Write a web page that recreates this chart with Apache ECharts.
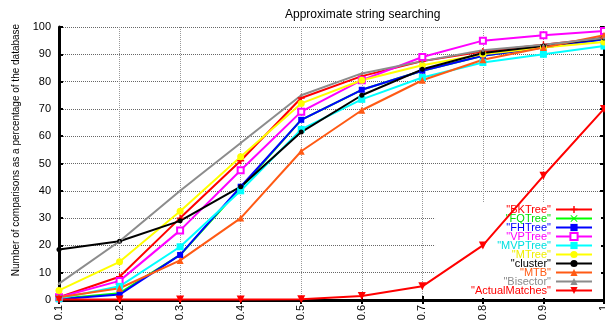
<!DOCTYPE html>
<html><head><meta charset="utf-8">
<script src="https://cdn.jsdelivr.net/npm/echarts@6/dist/echarts.min.js"></script>
<style>html,body{margin:0;padding:0;background:#fff}#c{width:605px;height:324px}</style>
</head><body><div id="c"></div><script>
const categories = ['0.1','0.2','0.3','0.4','0.5','0.6','0.7','0.8','0.9','1'];
const seriesNames = ['BKTree','FQTree','FHTree','VPTree','MVPTree','MTree','cluster','MTB','Bisector','ActualMatches'];
const bkTree = [1, 8.5, 30, 51, 74, 82, 87.5, 91, 93.5, 96];
const fqTree = [0.5, 2.5, 16.5, 41, 66, 77, 84, 89.5, 92.5, 95.5];
const fhTree = [0.3, 2, 16.5, 41.5, 66, 77, 84, 89.5, 92.5, 95.5];
const vpTree = [1, 7, 25.5, 47.5, 69, 80.5, 89, 95, 97, 98.5];
const mvpTree = [0.5, 5, 19.5, 40, 62.5, 73.5, 81.5, 87, 90, 93];
const mTree = [3.5, 14, 32.5, 52.5, 72, 80.5, 86, 90, 92.5, 94.5];
const cluster = [18.5, 21.5, 29, 41.5, 61.5, 75, 84.5, 90.5, 93, 96];
const mtb = [1, 4.3, 14.5, 30, 54.5, 69.5, 80.5, 88, 92.5, 97];
const bisector = [6, 21.5, 40, 57.5, 75, 83, 87.5, 91.5, 93.5, 96];
const actualMatches = [0.2, 0.2, 0.2, 0.2, 0.3, 1.5, 5, 20, 45.5, 70];

const FONT = 'Liberation Sans';
const plusPath = 'path://M4,0H6V4H10V6H6V10H4V6H0V4H4Z';
const crossPath = 'path://M1,0L5,4L9,0L10,1L6,5L10,9L9,10L5,6L1,10L0,9L4,5L0,1Z';

const styles = [
  {data: bkTree, color:'#ff0000', text:'#ff0000', symbol: plusPath, size: 7},
  {data: fqTree, color:'#00ff00', text:'#00e000', symbol: crossPath, size: 6},
  {data: fhTree, color:'#0000ff', text:'#0000ff', symbol:'rect', size: 6},
  {data: vpTree, color:'#ff00ff', text:'#ff00ff', symbol:'rect', size: 6, hollow:true},
  {data: mvpTree, color:'#00ffff', text:'#00e0e0', symbol:'rect', size: 7},
  {data: mTree, color:'#ffff00', text:'#f0f000', symbol:'circle', size: 7},
  {data: cluster, color:'#000000', text:'#000000', symbol:'circle', size: 5},
  {data: mtb, color:'#ff5a14', text:'#ff5a14', symbol:'triangle', size: 7},
  {data: bisector, color:'#8c8c8c', text:'#8c8c8c', symbol:'triangle', size: 3},
  {data: actualMatches, color:'#ff0000', text:'#ff0000', symbol:'path://M0,0H10L5,9Z', size: 8}
];

const series = seriesNames.map((n, i) => {
  const s = styles[i];
  return {
    type: 'line', name: n, data: s.data, symbol: s.symbol, symbolSize: s.size,
    showAllSymbol: true, animation: false, silent: true,
    lineStyle: {color: s.color, width: 2},
    itemStyle: s.hollow ? {color: '#ffffff', borderColor: s.color, borderWidth: 2} : {color: s.color},
    emphasis: {disabled: true}
  };
});

const chart = echarts.init(document.getElementById('c'), null, {renderer: 'canvas'});
chart.setOption({
  animation: false,
  backgroundColor: '#ffffff',
  textStyle: {fontFamily: FONT},
  title: {text: 'Approximate string searching', left: 280, top: 4,
    textStyle: {fontFamily: FONT, fontSize: 12, fontWeight: 'normal', color: '#000'}},
  grid: {left: 59, right: 1, top: 27, bottom: 24, containLabel: false, outerBoundsMode: 'none'},
  legend: {
    orient: 'vertical', right: 4, top: 202, align: 'right',
    itemWidth: 36, itemHeight: 9, itemGap: -2, selectedMode: false,
    backgroundColor: '#ffffff', padding: [2, 8, 2, 36], z: 1,
    formatter: n => '"' + n + '"',
    textStyle: {fontFamily: FONT, fontSize: 11, lineHeight: 9},
    data: seriesNames.map((n, i) => ({name: n, textStyle: {color: styles[i].text}}))
  },
  xAxis: [{
    type: 'category', data: categories, boundaryGap: false, position: 'bottom',
    axisLine: {lineStyle: {color: '#000', width: 3}},
    axisTick: {inside: true, length: 4, lineStyle: {color: '#000', width: 2}},
    axisLabel: {rotate: 90, interval: 0, fontSize: 11, color: '#000', margin: 5, fontFamily: FONT},
    splitLine: {show: true, interval: 0, lineStyle: {type: 'dotted', color: '#999', width: 1}},
    name: 'Edit distance', nameLocation: 'middle', nameGap: 15,
    nameTextStyle: {fontFamily: FONT, fontSize: 11, color: '#000'}
  }, {
    type: 'category', data: categories, boundaryGap: false, position: 'top',
    axisLine: {lineStyle: {color: '#000', width: 3}},
    axisTick: {inside: true, length: 4, lineStyle: {color: '#000', width: 2}},
    axisLabel: {show: false}, splitLine: {show: false}
  }],
  yAxis: [{
    type: 'value', min: 0, max: 100, interval: 10, position: 'left',
    axisLine: {show: true, lineStyle: {color: '#000', width: 3}},
    axisTick: {show: true, inside: true, length: 4, lineStyle: {color: '#000', width: 2}},
    axisLabel: {fontSize: 11, color: '#000', margin: 8, fontFamily: FONT},
    splitLine: {show: true, lineStyle: {type: 'dotted', color: '#666', width: 1}}
  }, {
    type: 'value', min: 0, max: 100, interval: 10, position: 'right',
    axisLine: {show: true, lineStyle: {color: '#000', width: 2}},
    axisTick: {show: true, inside: true, length: 4, lineStyle: {color: '#000', width: 2}},
    axisLabel: {show: false}, splitLine: {show: false}
  }],
  graphic: [{
    type: 'text', x: 16, y: 150, rotation: Math.PI / 2,
    style: {text: 'Number of comparisons as a percentage of the database',
      font: '10px "Liberation Sans"', align: 'center', verticalAlign: 'middle', fill: '#000'}
  }],
  series: series
});
</script></body></html>
